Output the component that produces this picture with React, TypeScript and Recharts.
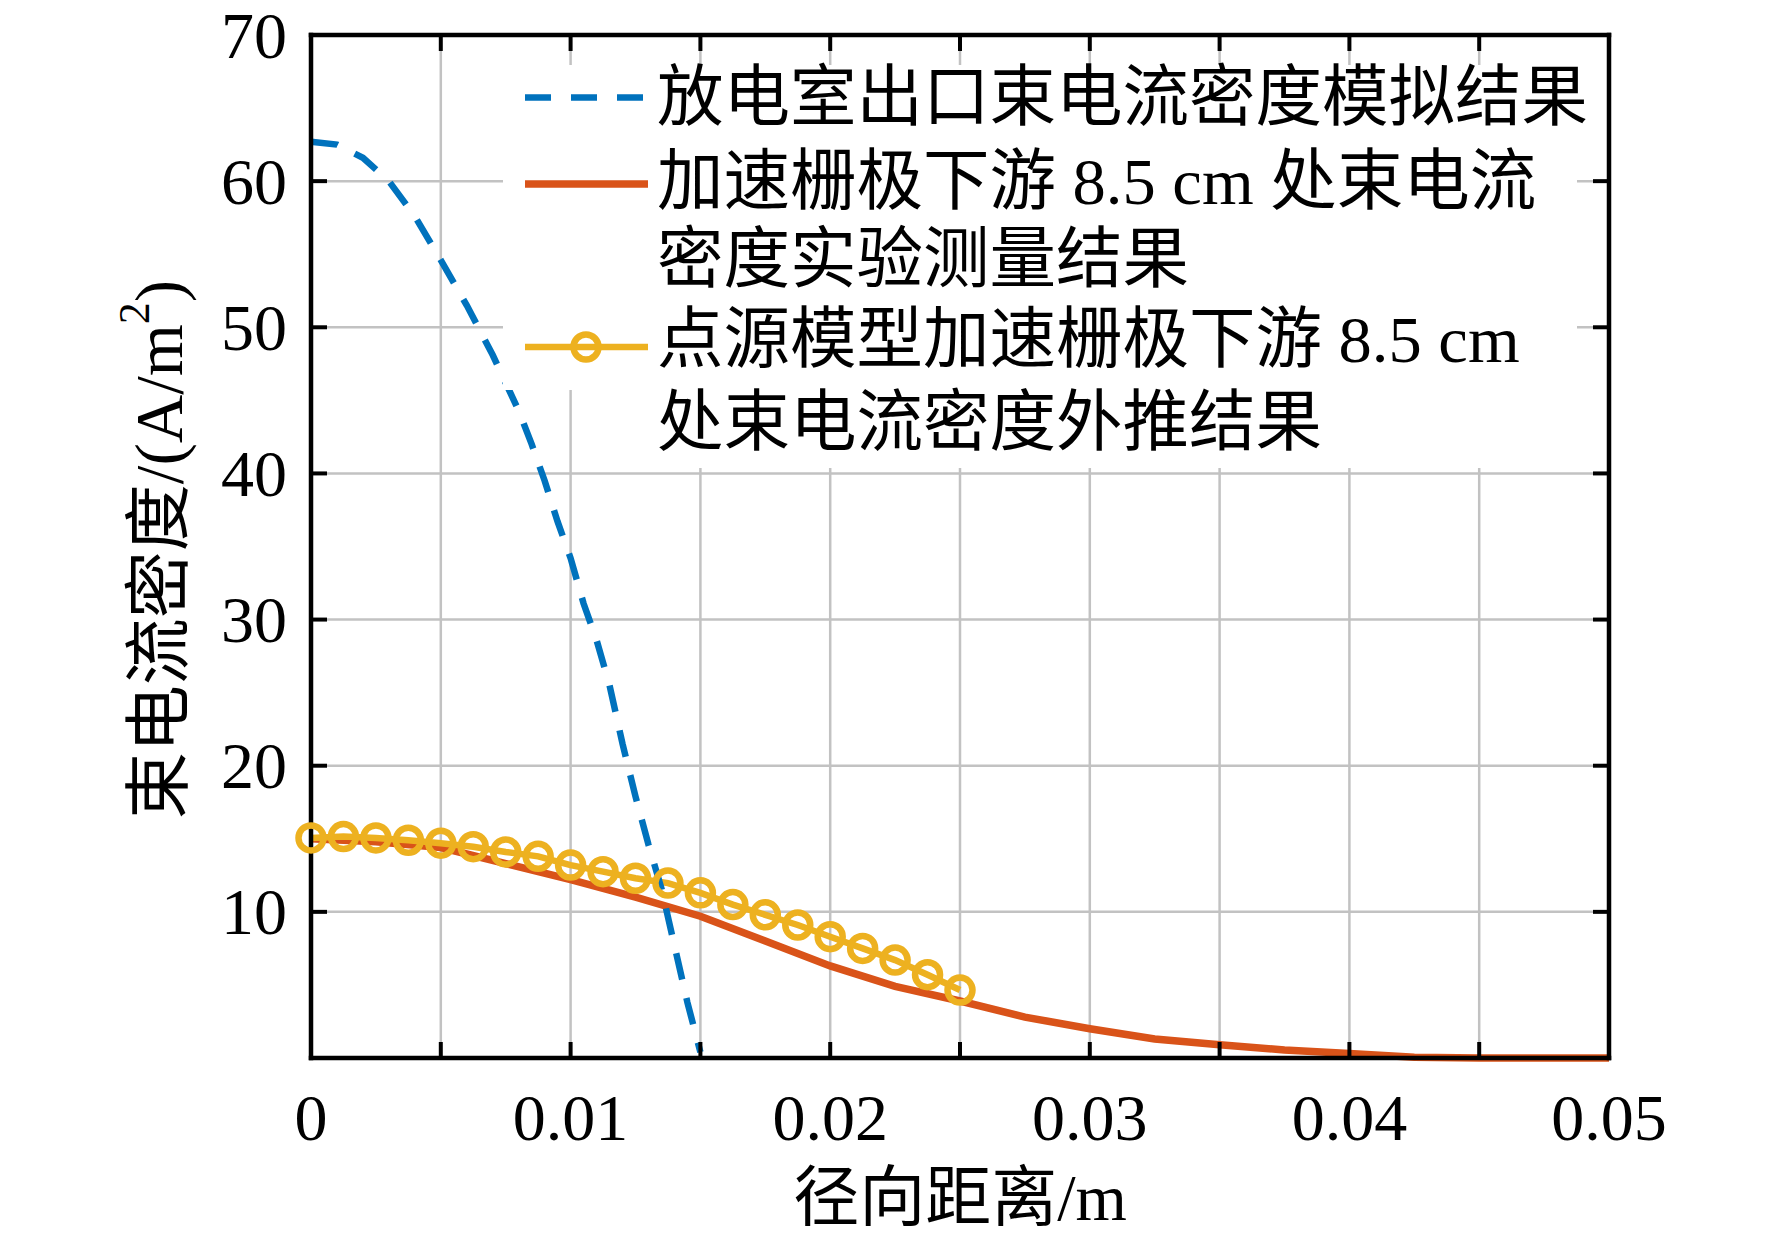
import React from 'react';
import { LineChart, Line, XAxis, YAxis, CartesianGrid, Legend, Label } from 'recharts';

// ---------- data ----------
const xTicks = [0, 0.005, 0.01, 0.015, 0.02, 0.025, 0.03, 0.035, 0.04, 0.045, 0.05];
const xTickLabels = ['0', '', '0.01', '', '0.02', '', '0.03', '', '0.04', '', '0.05'];
const yTicks = [10, 20, 30, 40, 50, 60, 70];
const yTickLabels = ['10', '20', '30', '40', '50', '60', '70'];

// 放电室出口束电流密度模拟结果
const simX = [0, 0.001, 0.002, 0.003, 0.004, 0.005, 0.006, 0.007, 0.008, 0.0085, 0.009, 0.0095, 0.01, 0.0105, 0.011, 0.0115, 0.012, 0.0125, 0.013, 0.0135, 0.014, 0.0145, 0.015];
const simY = [62.7, 62.5, 61.6, 60.0, 57.6, 54.6, 51.5, 48.1, 44.3, 42.0, 39.5, 36.7, 34.2, 31.1, 28.6, 25.5, 21.5, 17.9, 14.6, 11.6, 7.7, 3.8, 0.4];

// 加速栅极下游 8.5 cm 处束电流密度实验测量结果
const expX = [0, 0.0025, 0.005, 0.0075, 0.01, 0.0125, 0.015, 0.0175, 0.02, 0.0225, 0.025, 0.0275, 0.03, 0.0325, 0.035, 0.0375, 0.04, 0.0425, 0.045, 0.0475, 0.05];
const expY = [15.0, 14.8, 14.4, 13.3, 12.2, 11.0, 9.7, 8.0, 6.3, 4.9, 3.9, 2.8, 2.0, 1.3, 0.9, 0.55, 0.3, 0.05, 0, 0, 0];

// 点源模型加速栅极下游 8.5 cm 处束电流密度外推结果
const modelX = [0, 0.00125, 0.0025, 0.00375, 0.005, 0.00625, 0.0075, 0.00875, 0.01, 0.01125, 0.0125, 0.01375, 0.015, 0.01625, 0.0175, 0.01875, 0.02, 0.02125, 0.0225, 0.02375, 0.025];
const modelY = [15.06, 15.15, 15.06, 14.9, 14.7, 14.46, 14.1, 13.8, 13.2, 12.75, 12.3, 11.97, 11.3, 10.5, 9.8, 9.1, 8.3, 7.5, 6.7, 5.7, 4.65];

const legendLines = [
  ['放电室出口束电流密度模拟结果'],
  ['加速栅极下游 8.5 cm 处束电流', '密度实验测量结果'],
  ['点源模型加速栅极下游 8.5 cm', '处束电流密度外推结果'],
];

const BLUE = '#0072BD';
const ORANGE = '#D95319';
const YELLOW = '#EDB120';

const simData = simX.map((x, i) => ({ x, y: simY[i] }));
const expData = expX.map((x, i) => ({ x, y: expY[i] }));
const modelData = modelX.map((x, i) => ({ x, y: modelY[i] }));

const FONT = "'Liberation Serif', 'Times New Roman', 'Noto Sans CJK SC', serif";
const TICK_LEN = 16;
const TICK_W = 4;

const BottomTick = (props: any) => {
  const { x, y, payload } = props;
  const idx = xTicks.indexOf(payload.value);
  const label = idx >= 0 ? xTickLabels[idx] : '';
  return (
    <g>
      <line x1={x} x2={x} y1={y} y2={y - TICK_LEN} stroke="#000" strokeWidth={TICK_W} />
      {label ? (
        <text x={x} y={y + 59} textAnchor="middle" dominantBaseline="central" fontFamily={FONT} fontSize={66} fill="#000">
          {label}
        </text>
      ) : null}
    </g>
  );
};

const TopTick = (props: any) => {
  const { x, y } = props;
  return <line x1={x} x2={x} y1={y} y2={y + TICK_LEN} stroke="#000" strokeWidth={TICK_W} />;
};

const LeftTick = (props: any) => {
  const { x, y, payload } = props;
  const idx = yTicks.indexOf(payload.value);
  const label = idx >= 0 ? yTickLabels[idx] : '';
  return (
    <g>
      <line x1={x} x2={x + TICK_LEN} y1={y} y2={y} stroke="#000" strokeWidth={TICK_W} />
      <text x={x - 24} y={y} textAnchor="end" dominantBaseline="central" fontFamily={FONT} fontSize={66} fill="#000">
        {label}
      </text>
    </g>
  );
};

const RightTick = (props: any) => {
  const { x, y } = props;
  return <line x1={x} x2={x - TICK_LEN} y1={y} y2={y} stroke="#000" strokeWidth={TICK_W} />;
};

const XLabel = (props: any) => {
  const vb = props.viewBox || { x: 311, y: 1058, width: 1298 };
  return (
    <text x={vb.x + vb.width / 2} y={vb.y + 139} textAnchor="middle" dominantBaseline="central" fontFamily={FONT} fontSize={66} fill="#000">
      径向距离/m
    </text>
  );
};

const YLabel = (props: any) => {
  const vb = props.viewBox || { x: 310, y: 35, width: 1, height: 1023 };
  const cx = vb.x + vb.width - 152;
  const cy = vb.y + vb.height / 2 + 3;
  return (
    <text x={cx} y={cy} transform={`rotate(-90 ${cx} ${cy})`} textAnchor="middle" dominantBaseline="central" fontFamily={FONT} fontSize={67} fill="#000">
      束电流密度/(A/m<tspan baselineShift="super" fontSize={44}>2</tspan>)
    </text>
  );
};

const legendRowY = [[97.5], [181.5, 259], [339.5, 422]];
const legendIconY = [97.5, 184, 347];

const LegendBox = () => (
  <svg width={1772} height={1241} style={{ position: 'absolute', left: 0, top: 0, display: 'block' }}>
    <rect x={503} y={65} width={1074} height={325} fill="#fff" />
    <rect x={600} y={385} width={977} height={83} fill="#fff" />
    <line x1={525} x2={648} y1={legendIconY[0]} y2={legendIconY[0]} stroke={BLUE} strokeWidth={6.5} strokeDasharray="26 20" />
    <line x1={525} x2={648} y1={legendIconY[1]} y2={legendIconY[1]} stroke={ORANGE} strokeWidth={7.5} />
    <line x1={525} x2={648} y1={legendIconY[2]} y2={legendIconY[2]} stroke={YELLOW} strokeWidth={6.5} />
    <circle cx={586} cy={legendIconY[2]} r={12.5} stroke={YELLOW} strokeWidth={6.5} fill="none" />
    {legendLines.map((rows, i) =>
      rows.map((t, j) => (
        <text key={`${i}-${j}`} x={657} y={legendRowY[i][j]} dominantBaseline="central" fontFamily={FONT} fontSize={66.5} fill="#000">
          {t}
        </text>
      ))
    )}
  </svg>
);

const axisLineStyle = { stroke: '#000', strokeWidth: 4.5, strokeLinecap: 'square' as const };

export default function App() {
  return (
    <div style={{ position: 'absolute', left: 0, top: 0, width: 1772, height: 1241, background: '#fff' }}>
      <LineChart width={1772} height={1241} margin={{ top: 34, right: 162, bottom: 182, left: 310 }}>
        <CartesianGrid xAxisId="b" yAxisId="l" stroke="#c2c2c2" strokeWidth={2.5} />
        <XAxis
          xAxisId="b"
          type="number"
          dataKey="x"
          domain={[0, 0.05]}
          ticks={xTicks}
          interval={0}
          height={1}
          tickSize={0}
          tickMargin={0}
          tickLine={false}
          axisLine={axisLineStyle}
          tick={BottomTick}
        >
          <Label content={XLabel} />
        </XAxis>
        <XAxis
          xAxisId="t"
          orientation="top"
          type="number"
          dataKey="x"
          domain={[0, 0.05]}
          allowDataOverflow
          ticks={xTicks}
          interval={0}
          height={1}
          tickSize={0}
          tickMargin={0}
          tickLine={false}
          axisLine={axisLineStyle}
          tick={TopTick}
        />
        <YAxis
          yAxisId="l"
          type="number"
          domain={[0, 70]}
          ticks={yTicks}
          interval={0}
          width={1}
          tickSize={0}
          tickMargin={0}
          tickLine={false}
          axisLine={axisLineStyle}
          tick={LeftTick}
        >
          <Label content={YLabel} />
        </YAxis>
        <YAxis
          yAxisId="r"
          orientation="right"
          type="number"
          domain={[0, 70]}
          allowDataOverflow
          ticks={yTicks}
          interval={0}
          width={1}
          tickSize={0}
          tickMargin={0}
          tickLine={false}
          axisLine={axisLineStyle}
          tick={RightTick}
        />
        <Line
          xAxisId="b"
          yAxisId="l"
          data={expData}
          dataKey="y"
          name="加速栅极下游 8.5 cm 处束电流密度实验测量结果"
          type="linear"
          stroke={ORANGE}
          strokeWidth={7.5}
          dot={false}
          activeDot={false}
          isAnimationActive={false}
        />
        <Line
          xAxisId="b"
          yAxisId="l"
          data={modelData}
          dataKey="y"
          name="点源模型加速栅极下游 8.5 cm 处束电流密度外推结果"
          type="linear"
          stroke={YELLOW}
          strokeWidth={6.5}
          dot={{ r: 12.5, stroke: YELLOW, strokeWidth: 6.5, fill: 'none', clipDot: false }}
          activeDot={false}
          isAnimationActive={false}
        />
        <Line
          xAxisId="b"
          yAxisId="l"
          data={simData}
          dataKey="y"
          name="放电室出口束电流密度模拟结果"
          type="linear"
          stroke={BLUE}
          strokeWidth={6.5}
          strokeDasharray="27 19"
          dot={false}
          activeDot={false}
          isAnimationActive={false}
        />
        <Legend
          layout="horizontal"
          verticalAlign="middle"
          align="center"
          wrapperStyle={{ left: 0, top: 0, width: 1772, height: 1241, margin: 0, pointerEvents: 'none' }}
          content={() => <LegendBox />}
        />
      </LineChart>
    </div>
  );
}
